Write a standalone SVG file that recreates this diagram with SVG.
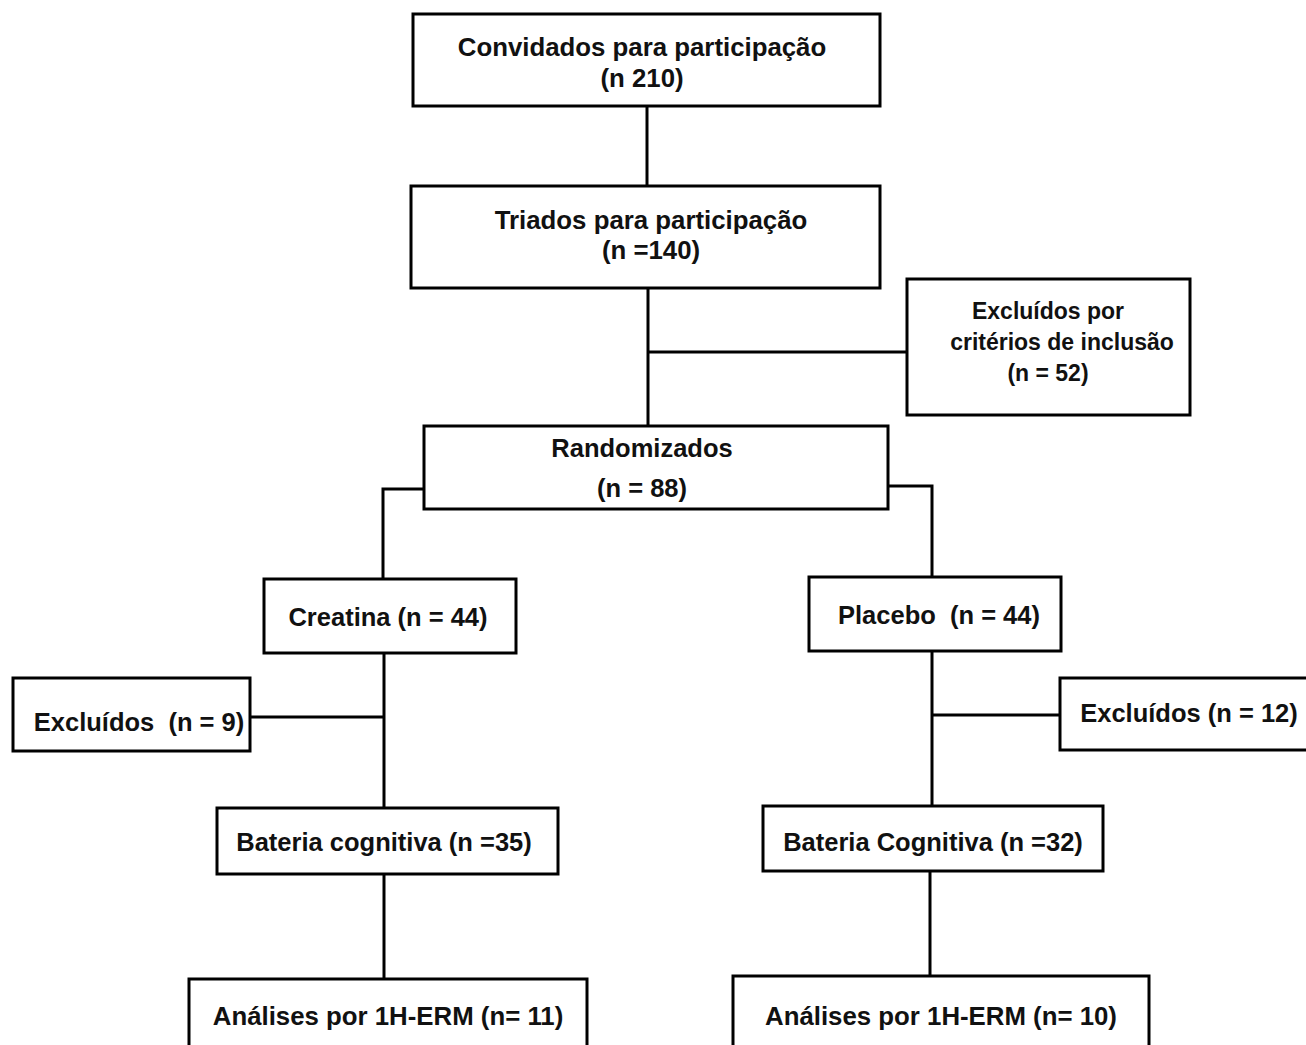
<svg xmlns="http://www.w3.org/2000/svg" width="1306" height="1045" viewBox="0 0 1306 1045">
<style>
.box{fill:#fff;stroke:#000;stroke-width:3}
.t{font-family:"Liberation Sans",Arial,sans-serif;font-weight:bold;fill:#111;text-anchor:middle}
.s23{font-size:23px}
.s25{font-size:25.5px}
.s26{font-size:25.8px}
.c{fill:none;stroke:#000;stroke-width:3}
</style>
<rect width="1306" height="1045" fill="#fff"/>
<g id="connectors">
<path class="c" d="M647 106V186"/>
<path class="c" d="M648 288V426M648 352H907"/>
<path class="c" d="M424 489H383V579"/>
<path class="c" d="M888 486H932V577"/>
<path class="c" d="M384 653V808M250 717H384"/>
<path class="c" d="M932 651V806M932 715H1060"/>
<path class="c" d="M384 874V979"/>
<path class="c" d="M930 871V976"/>
</g>
<g id="convidados"><rect class="box" x="413" y="14" width="467" height="92"/>
<text class="t s26" x="642" y="56">Convidados para participação</text>
<text class="t s26" x="642" y="87">(n 210)</text></g>
<g id="triados"><rect class="box" x="411" y="186" width="469" height="102"/>
<text class="t s26" x="651" y="229">Triados para participação</text>
<text class="t s26" x="651" y="259">(n =140)</text></g>
<g id="excluidos-inclusao"><rect class="box" x="907" y="279" width="283" height="136"/>
<text class="t s23" x="1048" y="319">Excluídos por</text>
<text class="t s23" x="1062" y="350">critérios de inclusão</text>
<text class="t s23" x="1048" y="381">(n = 52)</text></g>
<g id="randomizados"><rect class="box" x="424" y="426" width="464" height="83"/>
<text class="t s25" x="642" y="457">Randomizados</text>
<text class="t s25" x="642" y="497">(n = 88)</text></g>
<g id="creatina"><rect class="box" x="264" y="579" width="252" height="74"/>
<text class="t s25" x="388" y="626">Creatina (n = 44)</text></g>
<g id="placebo"><rect class="box" x="809" y="577" width="252" height="74"/>
<text class="t s25" x="939" y="624" xml:space="preserve">Placebo  (n = 44)</text></g>
<g id="excluidos-creatina"><rect class="box" x="13" y="678" width="237" height="73"/>
<text class="t s25" x="139" y="731" xml:space="preserve">Excluídos  (n = 9)</text></g>
<g id="excluidos-placebo"><rect class="box" x="1060" y="678" width="260" height="72"/>
<text class="t s25" x="1189" y="722">Excluídos (n = 12)</text></g>
<g id="bateria-creatina"><rect class="box" x="217" y="808" width="341" height="66"/>
<text class="t s25" x="384" y="851">Bateria cognitiva (n =35)</text></g>
<g id="bateria-placebo"><rect class="box" x="763" y="806" width="340" height="65"/>
<text class="t s25" x="933" y="851">Bateria Cognitiva (n =32)</text></g>
<g id="analises-creatina"><rect class="box" x="189" y="979" width="398" height="80"/>
<text class="t s26" x="388" y="1025">Análises por 1H-ERM (n= 11)</text></g>
<g id="analises-placebo"><rect class="box" x="733" y="976" width="416" height="80"/>
<text class="t s26" x="941" y="1025">Análises por 1H-ERM (n= 10)</text></g>
</svg>
